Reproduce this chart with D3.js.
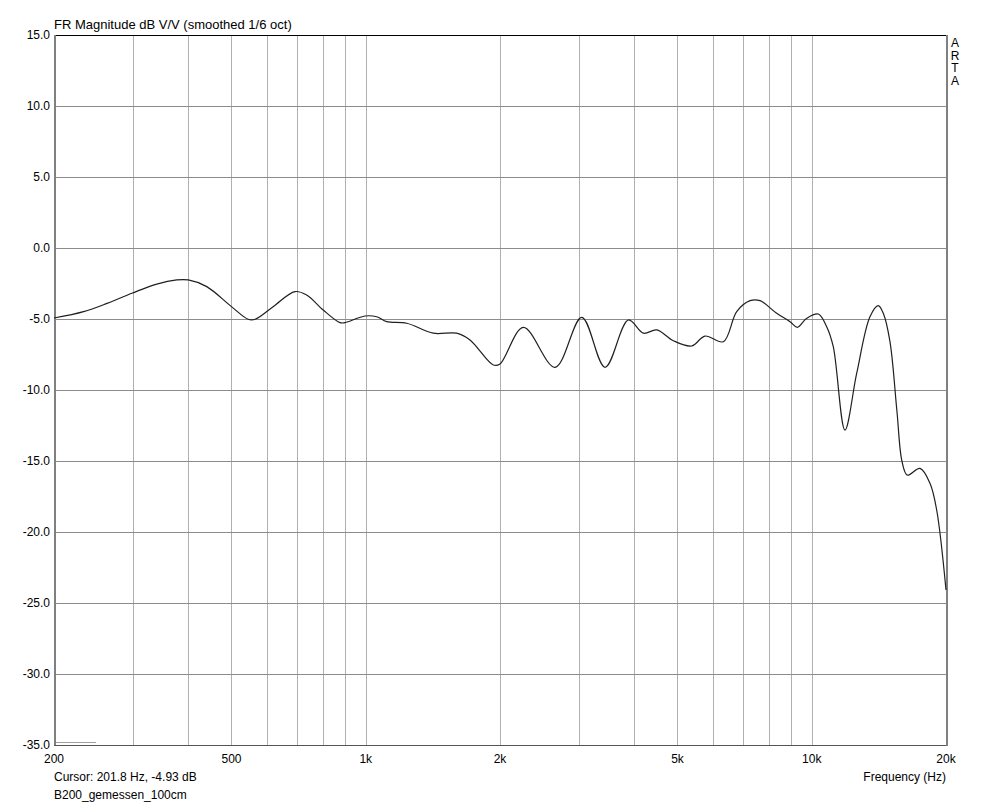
<!DOCTYPE html>
<html><head><meta charset="utf-8">
<script src="https://cdn.jsdelivr.net/npm/d3@7"></script>
<style>
body{margin:0;background:#fff;}
svg{display:block;}
text{font-family:"Liberation Sans",Arial,sans-serif;font-size:12px;fill:#000;}
</style></head>
<body>
<svg id="c" width="1000" height="805"></svg>
<script>
const freqs = [200,233,263,299,340,377,400,440,500,545,565,620,694,737,803,876,898,996,1058,1114,1236,1417,1599,1713,1932,2000,2256,2658,3050,3440,3880,4192,4492,4894,5380,5762,6334,6788,7272,7656,8344,8940,9282,9744,10344,10802,11176,11870,12614,13506,14098,14468,14976,15525,15930,16376,17488,18412,19060,20000];
const dbs   = [-4.93,-4.48,-3.9,-3.19,-2.54,-2.25,-2.25,-2.72,-4.13,-5.02,-5.02,-4.13,-3.07,-3.31,-4.37,-5.26,-5.26,-4.79,-4.84,-5.19,-5.3,-6.0,-6.0,-6.48,-8.24,-8.17,-5.59,-8.4,-4.88,-8.4,-5.07,-6.0,-5.77,-6.53,-6.9,-6.2,-6.6,-4.48,-3.71,-3.71,-4.6,-5.19,-5.59,-4.95,-4.65,-5.54,-6.95,-12.82,-8.82,-4.84,-4.06,-4.6,-6.6,-11.5,-15.0,-15.99,-15.52,-16.57,-18.45,-24.08];
const yTicks = [15,10,5,0,-5,-10,-15,-20,-25,-30,-35];
const xGrid = [300,400,500,600,700,800,900,1000,2000,3000,4000,5000,6000,7000,8000,9000,10000];
const xLabelVals = [200,500,1000,2000,5000,10000,20000];
const xLabelText = ["200","500","1k","2k","5k","10k","20k"];

const L=54,R=946,T=35,B=745;
const svg=d3.select("#c");
const x=d3.scaleLog().domain([200,20000]).range([L,R]);
const y=d3.scaleLinear().domain([-35,15]).range([B,T]);

// grid
svg.append("g").selectAll("line").data(xGrid).join("line")
  .attr("x1",d=>Math.round(x(d))+0.5).attr("x2",d=>Math.round(x(d))+0.5)
  .attr("y1",T).attr("y2",B).attr("stroke","#b0b0b0").attr("stroke-width",1);
svg.append("g").selectAll("line").data(yTicks.slice(1,-1)).join("line")
  .attr("x1",L).attr("x2",R).attr("y1",d=>Math.round(y(d))+0.5).attr("y2",d=>Math.round(y(d))+0.5)
  .attr("stroke","#8c8c8c").attr("stroke-width",1);

// frame
svg.append("line").attr("x1",L).attr("x2",R+1).attr("y1",T+0.5).attr("y2",T+0.5).attr("stroke","#000");
svg.append("line").attr("x1",L+1).attr("x2",L+1).attr("y1",T).attr("y2",B+1).attr("stroke","#808080").attr("stroke-width",2);
svg.append("line").attr("x1",L).attr("x2",R+1).attr("y1",B+0.5).attr("y2",B+0.5).attr("stroke","#555");
svg.append("line").attr("x1",R+1).attr("x2",R+1).attr("y1",T).attr("y2",B+1).attr("stroke","#808080").attr("stroke-width",2);
// cursor marker
svg.append("line").attr("x1",L+2).attr("x2",96).attr("y1",B-2.5).attr("y2",B-2.5).attr("stroke","#a0a0a0");

// curve
const line=d3.line().x((d,i)=>x(freqs[i])).y(d=>y(d)).curve(d3.curveCatmullRom.alpha(0.5));
svg.append("path").attr("d",line(dbs)).attr("fill","none").attr("stroke","#202020").attr("stroke-width",1.2);

// y labels
svg.append("g").selectAll("text").data(yTicks).join("text")
  .attr("x",L-4).attr("y",d=>y(d)+4).attr("text-anchor","end").text(d=>d.toFixed(1));
// x labels
svg.append("g").selectAll("text").data(xLabelVals).join("text")
  .attr("x",d=>x(d)).attr("y",763).attr("text-anchor","middle").text((d,i)=>xLabelText[i]);

svg.append("text").attr("x",L).attr("y",29).style("font-size","13px").text("FR Magnitude dB V/V (smoothed 1/6 oct)");
svg.append("text").attr("x",L).attr("y",781).text("Cursor: 201.8 Hz, -4.93 dB");
svg.append("text").attr("x",L).attr("y",799).text("B200_gemessen_100cm");
svg.append("text").attr("x",R).attr("y",781).attr("text-anchor","end").text("Frequency (Hz)");
["A","R","T","A"].forEach((c,i)=>svg.append("text").attr("x",955).attr("y",47+i*12.5).attr("text-anchor","middle").text(c));
</script>
</body></html>
